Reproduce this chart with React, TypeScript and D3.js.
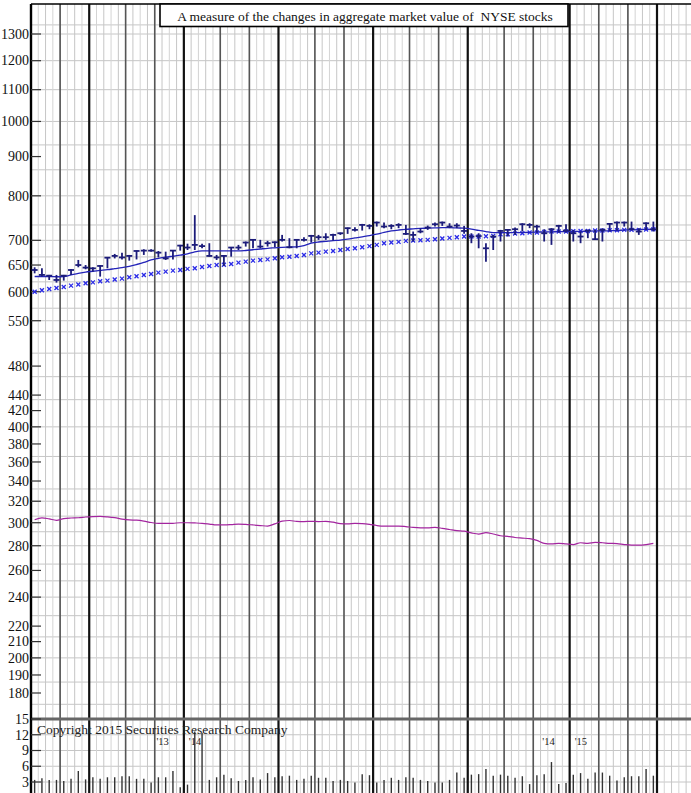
import React from "react";
import * as d3 from "d3";

const W = 691;
const H = 793;

// Weekly data (Aug 2013 – Mar 2015), 86 weeks
const weekHigh = [645.6, 643.6, 631, 631, 631, 641.7, 660, 650, 645.6, 650, 665.2, 672, 674.6, 670, 678.7, 681.5, 681.5, 678, 676.6, 680, 690.5, 693, 755, 693, 694, 670, 669, 685.6, 690.5, 697.5, 702.4, 701, 699, 697.5, 711.5, 704.5, 702.4, 706.6, 711.5, 711.5, 715, 713.7, 716.5, 727.3, 728, 735.4, 734.6, 740.5, 738.3, 734.6, 736.8, 733.2, 718.7, 726, 731.7, 738.3, 740.5, 736.8, 736.8, 731, 715, 715, 694, 711.5, 722.3, 723.7, 727.3, 736.8, 736.8, 733.2, 723.7, 726, 733.2, 734.6, 722.3, 718.7, 722.3, 722.3, 726, 736.8, 740.5, 740.5, 740.5, 726, 738.3, 740.5];
const weekLow = [634, 627.8, 621.5, 616.6, 620.3, 631, 645.6, 641.7, 637.2, 627.8, 643.6, 663, 661, 658.6, 661, 670, 676.6, 665, 660, 661, 678.7, 680, 680, 683.5, 666.5, 660, 648, 666.5, 680, 687, 683.5, 683.5, 687, 685.6, 697.5, 683.5, 683.5, 697.5, 695.4, 701, 701, 699.6, 711.5, 713.7, 718.7, 720.8, 723.7, 729.5, 726, 723.7, 726, 711.5, 697.5, 715, 722.3, 729.5, 731, 726, 726, 714, 694, 683.5, 656.6, 680, 697.5, 708, 711.5, 718.7, 726, 716.5, 697.5, 690.5, 716.5, 716.5, 697.5, 694, 704.5, 701, 697.5, 718.7, 720.8, 729.5, 722.3, 711.5, 722.3, 718.7];
const weekClose = [640.4, 631, 629.6, 621.5, 629.6, 640.4, 650, 645, 643.6, 648.2, 664.5, 668, 665, 668, 678, 678.7, 678.7, 674.6, 663, 678.7, 689, 685, 690.5, 688, 668, 665, 668, 685, 685, 695.4, 701, 687, 694, 696, 701, 685.6, 701, 701, 709.4, 706.6, 706.6, 711.5, 715, 726, 722.3, 733.2, 731, 738.3, 729.5, 731, 733.2, 713.7, 711.5, 718.7, 727.3, 734.6, 738.3, 729.5, 731.7, 720, 708, 709, 683.5, 708, 720, 722.3, 723.7, 734.6, 733.2, 729.5, 715, 723.7, 731, 720.8, 715, 708, 720.8, 702.4, 722.3, 735.4, 738.3, 738.3, 723.7, 718.7, 736.8, 723.7];
const movingAvg = [628, 628, 628, 627.5, 628, 631, 634, 636.5, 638, 639.5, 641, 643, 645, 647.5, 651, 655, 660, 663, 665.5, 667.5, 669.5, 672, 676, 678, 678, 678, 678, 678, 678, 679, 680.5, 682, 683.5, 684.5, 685.5, 686, 686.5, 689, 694, 696.5, 698, 699.5, 700.5, 702.5, 705, 707.5, 710, 713, 717, 720, 722, 723.5, 724.5, 725.5, 726, 726.5, 727, 727, 726.5, 726, 724, 721, 718.5, 716.5, 716.5, 716.5, 716.5, 716.5, 717, 717.5, 718, 718, 718.5, 718.5, 719, 719, 719.5, 720, 720, 720.5, 721, 722, 722.5, 723, 723.5, 723.7];
const longAvg = [600, 602.5, 605, 606.8, 608.5, 611, 613, 615.3, 617, 619, 620.3, 622.3, 624, 626.5, 628.4, 631, 632.8, 635.3, 637.3, 639.2, 640.4, 642.6, 643.6, 646.2, 648.2, 650, 650.5, 652, 654.7, 656.6, 658.6, 660, 661.2, 663.2, 665.2, 666.5, 667.8, 670, 673.2, 674.6, 676.6, 678, 680, 682, 683.5, 685.6, 688, 690.5, 694, 695.4, 696.8, 698.9, 699.6, 700.3, 701, 702.4, 703.8, 705.2, 706.6, 708, 708, 708, 708.5, 709.4, 713, 713, 714.4, 715, 716.5, 716.5, 718, 718.7, 718.7, 718.7, 719.4, 720, 720, 720.8, 720.8, 721.5, 721.5, 722.3, 722.3, 722.3, 723, 723.7];
const relStrength = [302.7, 304.5, 303.5, 302.2, 303.8, 304.3, 304.5, 305.2, 305.6, 305.7, 305.3, 304.6, 303.3, 302.5, 302.3, 301.5, 300.2, 299.4, 299.4, 299.5, 300, 300, 299.8, 299.5, 298.8, 298, 298, 298.3, 298.8, 298.5, 298, 297.5, 297, 299, 301.5, 302, 301.2, 301, 301.3, 301, 301.2, 300.5, 299.2, 299, 299.5, 299.2, 298.5, 297.5, 297, 297, 297, 296.5, 295.8, 295.5, 295.5, 295.8, 295, 294, 293, 292.5, 291, 290, 291.2, 290, 288.5, 288, 287, 286.5, 286, 284.5, 282, 281.5, 282, 281.5, 281, 282.5, 282, 282.8, 282.5, 282, 281.8, 281, 280.5, 280.5, 281, 282];
const volume = [3.4, 3.7, 3.4, 3.4, 3.2, 3.6, 5.1, 3.5, 3.9, 3.6, 3.9, 3.9, 4.1, 4.1, 3.6, 3.6, 2.9, 3.9, 3.9, 5.1, 2.0, 2.5, 12.6, 12.4, 3.4, 3.9, 4.4, 3.7, 3.2, 3.4, 3.9, 3.5, 4.7, 3.9, 4.1, 4.2, 3.4, 3.6, 4.2, 3.8, 3.8, 3.2, 3.4, 3.2, 2.9, 4.5, 4.3, 2.9, 3.4, 3.8, 3.4, 3.9, 3.8, 3.4, 3.2, 2.9, 2.9, 3.4, 4.8, 3.8, 4.4, 4.5, 5.5, 4.2, 4.4, 4.2, 3.8, 4.1, 2.6, 4.3, 4.5, 6.8, 2.6, 2.8, 4.4, 4.7, 3.6, 4.8, 4.8, 4.2, 3.3, 3.9, 4.1, 4.1, 5.5, 4.2];

const priceTicks = [1300, 1200, 1100, 1000, 900, 800, 700, 650, 600, 550, 480, 440, 420, 400, 380, 360, 340, 320, 300, 280, 260, 240, 220, 210, 200, 190, 180];
const gridValues = [1336, 1300, 1200, 1100, 1000, 932, 865, 800, 733, 700, 666, 618, 600, 571, 550, 532, 499, 465, 434, 400, 366, 332, 320, 306, 292, 280, 265, 252, 240, 227, 213, 200, 186, 174];
const volumeTicks = [3, 6, 9, 12, 15];
const monthStarts = [4, 8, 13, 17, 21, 26, 30, 34, 39, 43, 47, 52, 56, 60, 65, 69, 74, 78, 82, 86];
const quarterStarts = [8, 21, 34, 47, 60, 74, 86];
const yearStarts = [21, 74];
const yearBefore = ["'13", "'14"];
const yearAfter = ["'14", "'15"];
const title = "A measure of the changes in aggregate market value of\u00a0 NYSE stocks";
const copyright = "Copyright 2015 Securities Research Company";

const SERIF = "'Liberation Serif', 'Times New Roman', serif";

export default function App() {
  const x = d3.scaleLinear().domain([0, 86]).range([31, 657]);
  const y = d3.scaleLog().domain([180, 1300]).range([693, 34]);
  const yv = d3.scaleLinear().domain([0, 15]).range([797.75, 719]);
  const cx = (i: number) => x(i + 0.5);

  const weekLines = d3.range(0, 92);
  const line = d3.line<number>().x((_, i) => cx(i)).y((d) => y(d)).curve(d3.curveMonotoneX);

  const top = 4;
  const navy = "#1c1c7a";

  return (
    <svg width={W} height={H} style={{ position: "absolute", left: 0, top: 0, background: "#fff" }} fontFamily={SERIF}>
      <rect x={0} y={0} width={W} height={H} fill="#fff" />
      {/* horizontal grid */}
      {gridValues.map((v, i) => (
        <line key={"hg" + i} x1={31} x2={W} y1={y(v)} y2={y(v)} stroke="#c6c6c6" strokeWidth={1} />
      ))}
      {volumeTicks.slice(0, 4).map((v, i) => (
        <line key={"vg" + i} x1={31} x2={W} y1={yv(v)} y2={yv(v)} stroke="#c6c6c6" strokeWidth={1} />
      ))}
      {/* weekly vertical grid */}
      {weekLines.map((k) => (
        <line key={"wl" + k} x1={x(k)} x2={x(k)} y1={top} y2={H} stroke={k % 2 ? "#d4d4d4" : "#c6c6c6"} strokeWidth={1} />
      ))}
      {/* month lines */}
      {monthStarts.filter((m) => quarterStarts.indexOf(m) < 0).map((m) => (
        <line key={"ml" + m} x1={x(m)} x2={x(m)} y1={top} y2={H} stroke="#555" strokeWidth={1.6} />
      ))}
      {quarterStarts.map((m) => (
        <line key={"ql" + m} x1={x(m)} x2={x(m)} y1={top} y2={H} stroke="#111" strokeWidth={2.2} />
      ))}
      {/* volume panel separator */}
      <line x1={31} x2={W} y1={yv(15)} y2={yv(15)} stroke="#666" strokeWidth={3} />
      {/* borders */}
      <line x1={31} x2={31} y1={top} y2={H} stroke="#000" strokeWidth={2.4} />
      <line x1={31} x2={W} y1={top} y2={top} stroke="#000" strokeWidth={1.6} />
      {/* title box */}
      <rect x={160} y={top} width={408} height={22.5} fill="#fff" stroke="#000" strokeWidth={1.6} />
      <text x={365} y={20.5} textAnchor="middle" fontSize={13.5} fill="#111">{title}</text>
      {/* price ticks */}
      {priceTicks.map((v) => (
        <g key={"pt" + v}>
          <line x1={31} x2={41} y1={y(v)} y2={y(v)} stroke="#333" strokeWidth={1.2} />
          <text x={29} y={y(v) + 4.8} textAnchor="end" fontSize={14} fill="#111">{v}</text>
        </g>
      ))}
      {volumeTicks.map((v) => (
        <g key={"vt" + v}>
          <line x1={31} x2={41} y1={yv(v)} y2={yv(v)} stroke="#333" strokeWidth={1.2} />
          <text x={29} y={yv(v) + 4.8} textAnchor="end" fontSize={14} fill="#111">{v}</text>
        </g>
      ))}
      {/* volume bars */}
      {volume.map((v, i) => (
        <line key={"vb" + i} x1={cx(i)} x2={cx(i)} y1={yv(0)} y2={yv(v)} stroke="#333" strokeWidth={1.4} />
      ))}
      {/* relative strength */}
      <path d={line(relStrength) || ""} fill="none" stroke="#a3259f" strokeWidth={1.2} />
      {/* long-term average x markers */}
      {longAvg.map((v, i) => (
        <g key={"xm" + i} stroke="#2b2be6" strokeWidth={1.3}>
          <line x1={cx(i) - 2} x2={cx(i) + 2} y1={y(v) - 2} y2={y(v) + 2} />
          <line x1={cx(i) - 2} x2={cx(i) + 2} y1={y(v) + 2} y2={y(v) - 2} />
        </g>
      ))}
      {/* moving average */}
      <path d={line(movingAvg) || ""} fill="none" stroke="#2323b8" strokeWidth={1.3} />
      {/* price bars */}
      {weekClose.map((c, i) => (
        <g key={"pb" + i} stroke={navy}>
          <line x1={cx(i)} x2={cx(i)} y1={y(weekHigh[i])} y2={y(weekLow[i])} strokeWidth={1.8} />
          <line x1={cx(i) - 3} x2={cx(i) + 3} y1={y(c)} y2={y(c)} strokeWidth={1.8} />
        </g>
      ))}
      {/* copyright */}
      <text x={37} y={734} fontSize={13.5} fill="#222">{copyright}</text>
      {/* year marks */}
      {yearStarts.map((w, i) => (
        <g key={"ym" + i} fontSize={10.5} fill="#222">
          <text x={x(w) - 15} y={745} textAnchor="end">{yearBefore[i]}</text>
          <text x={x(w) + 5} y={745}>{yearAfter[i]}</text>
        </g>
      ))}
    </svg>
  );
}
